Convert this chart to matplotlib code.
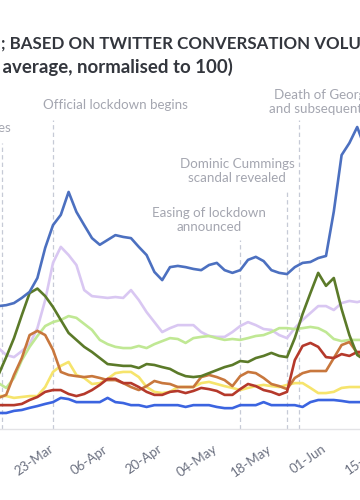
import pandas as pd
import matplotlib
matplotlib.use("Agg")
import matplotlib.pyplot as plt
import matplotlib.dates as mdates
from matplotlib.transforms import ScaledTranslation

plt.rcParams['font.family'] = ['Lato', 'DejaVu Sans']

# ------------------------------
# Datos (media movil, normalizado a 100)
# ------------------------------
dates = pd.date_range("2020-03-09", periods=48, freq="2D")

covid = [40.7, 41, 41.7, 43.4, 45.4, 50, 60, 67.5, 70.9, 78.5, 71.9, 67.5,
         63.2, 61, 62.6, 64.2, 63.6, 63.2, 60.3, 57.6, 52, 49.3, 53.6, 54,
         53.6, 53, 52.6, 54.3, 55, 52.6, 51.7, 52.6, 56, 57, 55.6, 52.6,
         51.7, 51.3, 53.6, 55, 55.3, 56.6, 57.3, 72, 90.7, 94.7, 100, 93]
lavender = [26.8, 24.5, 23.8, 25.8, 28.1, 33.4, 42.7, 55, 60.3, 57.6, 54.3, 46,
            44, 43.7, 43.4, 43.7, 43.4, 46, 42.7, 38.7, 35.4, 32.1, 33.4, 34.4,
            34.4, 34.4, 32.1, 30.8, 30.5, 30.5, 32.1, 34.1, 35.4, 34.4, 33.1, 32.8,
            31.1, 30.1, 33.4, 36.1, 38.4, 40.7, 40.7, 39.4, 41.7, 42.4, 42, 42.7]
light_green = [15.2, 13.6, 16.9, 22.8, 27.2, 30.8, 34.1, 35.4, 36.1, 37.4, 36.8, 34.8,
               32.8, 29.5, 28.1, 27.2, 26.8, 26.8, 27.5, 26.8, 28.1, 29.1, 30.1, 29.8,
               28.5, 30.1, 30.5, 30.8, 30.1, 29.5, 29.8, 29.5, 30.1, 30.8, 31.1, 32.1,
               33.4, 33.4, 33.1, 33.4, 33.8, 33.4, 32.1, 29.8, 29.1, 29.5, 29.5, 29.5]
olive = [17.9, 23.8, 30.1, 37.7, 45, 46.5, 44, 40.4, 36.1, 31.8, 29.5, 27.2,
         25.5, 23.5, 21.5, 21.2, 20.9, 20.9, 20.2, 21.5, 21.2, 20.5, 19.9, 18.5,
         17.5, 17.2, 17.5, 18.5, 19.5, 20.5, 21.2, 22.5, 22.2, 23.5, 24.2, 25.2,
         24.2, 23.8, 30.1, 38.1, 45, 51.7, 47.4, 50, 39.7, 31.1, 24.5, 22.8]
orange = [10.3, 11.3, 17.9, 23.5, 31.1, 32.5, 31.1, 26.2, 18.9, 17.9, 17.5, 17.2,
          17.5, 16.9, 16.2, 16.2, 15.2, 13.9, 12.9, 14.2, 15.9, 15.2, 14.9, 13.9,
          13.9, 13.9, 17.2, 17.9, 17.2, 16.2, 14.2, 17.5, 18.9, 18.5, 16.9, 14.9,
          14.2, 13.2, 16.9, 18.5, 19.2, 19.2, 19.2, 23.5, 27.8, 28.8, 25.2, 22.8]
red = [7.9, 7.9, 7.9, 8.3, 9.6, 10.6, 12.3, 12.9, 12.9, 11.6, 10.9, 11.6,
       12.9, 14.6, 16.6, 16.6, 15.2, 15.2, 13.9, 12.3, 11.3, 11.3, 12.3, 12.6,
       11.9, 12.6, 13.6, 13.2, 12.6, 11.3, 11.3, 13.2, 14.9, 14.2, 12.9, 12.3,
       11.3, 12.3, 22.8, 27.5, 28.5, 27.2, 23.8, 23.5, 24.8, 24.2, 25.5, 25.5]
yellow = [10.9, 10.9, 10.3, 10.6, 10.9, 10.9, 13.9, 18.9, 20.9, 22.2, 17.9, 16.9,
          14.9, 15.2, 16.6, 18.5, 18.9, 18.9, 17.2, 13.9, 12.3, 11.9, 12.3, 13.9,
          13.9, 13.9, 15.2, 15.6, 14.9, 14.2, 13.6, 12.9, 13.6, 14.2, 14.6, 14.2,
          13.9, 14.6, 15.2, 15.2, 13.6, 11.9, 11.9, 12.3, 13.6, 13.9, 13.9, 13.9]
bright_blue = [5.3, 5.3, 6, 6.3, 7, 7.6, 8.3, 8.9, 10.3, 9.9, 8.9, 8.9,
               8.9, 8.9, 10.3, 8.9, 8.6, 7.9, 7.9, 7.3, 7.9, 7.9, 7.9, 7.9,
               7.3, 7.9, 7.9, 7.9, 7.3, 6.9, 6.9, 7.9, 7.9, 7.9, 8.9, 7.9,
               7.9, 7.9, 7.9, 7.3, 8.9, 9.6, 9.6, 9.6, 9.3, 8.9, 8.9, 8.9]

event_dates = pd.to_datetime(["2020-03-10", "2020-03-23", "2020-05-10",
                              "2020-05-22", "2020-05-25"])
event_tops = [94.7, 102.3, 62.6, 79.1, 102.3]

tick_dates = pd.date_range("2020-03-09", periods=8, freq="14D")

# ------------------------------
# Figura (la imagen es un recorte de un grafico mas ancho)
# ------------------------------
W, H = 360, 500
PX_DAY = 3.9          # pixeles por dia
X0 = 53               # pixel del 23-Mar
AX_L, AX_R = -60, 420  # extremos del eje en pixeles (fuera del lienzo)

fig = plt.figure(figsize=(3.6, 5), dpi=100)
fig.patch.set_facecolor("white")
ax = fig.add_axes([AX_L / W, 71 / H, (AX_R - AX_L) / W, 329 / H])

series = [
    (lavender, "#d9c7f2"),
    (light_green, "#c0e894"),
    (yellow, "#f6e46c"),
    (orange, "#c8773d"),
    (red, "#b5392b"),
    (olive, "#5b7a29"),
    (bright_blue, "#3b64e0"),
    (covid, "#4c70c0"),
]
for vals, col in series:
    ax.plot(dates, vals, color=col, lw=1.9, solid_joinstyle="round")

ax.vlines(event_dates, 0, event_tops, colors="#c6cad6", lw=0.9,
          linestyles=(0, (3.5, 2.5)), zorder=0)

ax.set_xticks(tick_dates)
ax.xaxis.set_major_formatter(mdates.DateFormatter("%d-%b"))
ax.tick_params(axis="x", length=0, pad=10, labelsize=9.5, labelcolor="#6b7080")
shift = ScaledTranslation(2.5 / 100, 0, fig.dpi_scale_trans)
for lab in ax.get_xticklabels():
    lab.set_rotation(35)
    lab.set_ha("right")
    lab.set_transform(lab.get_transform() + shift)
ax.set_yticks([])

# limites despues de los ticks (set_xticks los amplia)
base = mdates.date2num(pd.Timestamp("2020-03-23"))
ax.set_xlim(base + (AX_L - X0) / PX_DAY, base + (AX_R - X0) / PX_DAY)
ax.set_ylim(0, 329 / 3.02)

for s in ["top", "left", "right"]:
    ax.spines[s].set_visible(False)
ax.spines["bottom"].set_color("#e3e3e6")
ax.spines["bottom"].set_linewidth(1)


def px(x, y):
    return x / W, 1 - y / H


# Titulo (recortado en la imagen)
tc = "#33363d"
fig.text(*px(1, 44), "TOPIC TRENDS", ha="right", va="center",
         fontsize=12.2, fontweight="bold", color=tc)
fig.text(*px(1, 44), "; BASED ON TWITTER CONVERSATION VOLUME", ha="left",
         va="center", fontsize=12.2, fontweight="bold", color=tc)
fig.text(*px(-2, 67), "(7-day rolling", ha="right", va="center",
         fontsize=13.4, fontweight="bold", color=tc)
fig.text(*px(-2, 67), " average, normalised to 100)", ha="left", va="center",
         fontsize=13.4, fontweight="bold", color=tc)

# Anotaciones
ac = "#a4a6b0"
afs = 9.6
fig.text(*px(-63, 121), "Italy lockdown\nextended to all provinces", ha="center",
         va="center", fontsize=afs, color=ac, linespacing=1.25)
fig.text(*px(115, 105), "Official lockdown begins", ha="center", va="center",
         fontsize=afs, color=ac)
fig.text(*px(341, 102), "Death of George Floyd\nand subsequent protests",
         ha="center", va="center", fontsize=afs, color=ac, linespacing=1.25)
fig.text(*px(237, 171), "Dominic Cummings\nscandal revealed", ha="center",
         va="center", fontsize=afs, color=ac, linespacing=1.25)
fig.text(*px(209, 220), "Easing of lockdown\nannounced", ha="center",
         va="center", fontsize=afs, color=ac, linespacing=1.25)

fig.savefig("out.png", dpi=100, facecolor="white")
